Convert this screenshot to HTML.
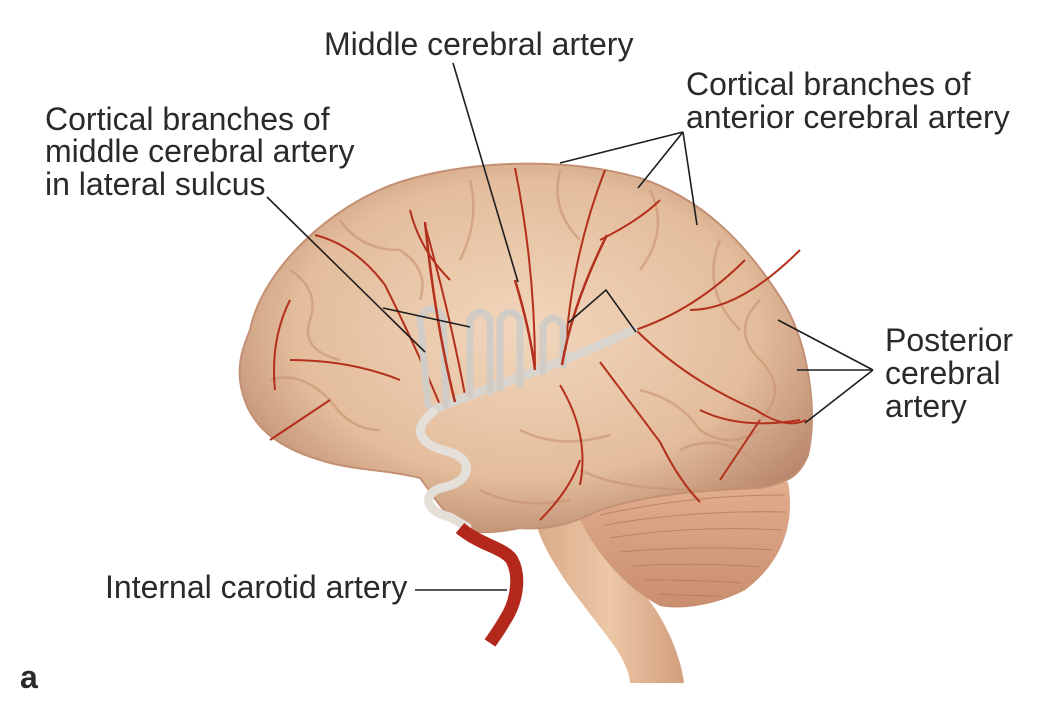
<!DOCTYPE html>
<html><head><meta charset="utf-8"><style>
body{margin:0;background:#fff}
svg{display:block}
text{font-family:"Liberation Sans",sans-serif;font-size:32px;fill:#2a2a2a}
</style></head><body>
<svg width="1040" height="717" viewBox="0 0 1040 717" xmlns="http://www.w3.org/2000/svg">
<defs>
<radialGradient id="b" cx="0.5" cy="0.45" r="0.62">
<stop offset="0" stop-color="#f2d6bc"/><stop offset="0.65" stop-color="#e3bd9c"/><stop offset="1" stop-color="#b7846a"/>
</radialGradient>
<linearGradient id="c" x1="0" y1="0" x2="0" y2="1">
<stop offset="0" stop-color="#e2ae8e"/><stop offset="1" stop-color="#c98e6e"/>
</linearGradient>
<linearGradient id="s" x1="0" y1="0" x2="1" y2="0">
<stop offset="0" stop-color="#d9aa88"/><stop offset="0.5" stop-color="#ecc7a6"/><stop offset="1" stop-color="#d29e7e"/>
</linearGradient>
</defs>
<path d="M535 520 C545 560 580 600 610 640 C625 660 630 675 630 683 L684 683 C680 650 660 610 640 590 C620 560 600 530 590 520 Z" fill="url(#s)"/>
<path d="M580 520 C620 490 700 480 788 482 C795 520 785 560 745 590 C715 606 680 610 660 606 C630 590 600 560 580 520 Z" fill="url(#c)"/>
<g stroke="#b57a5e" stroke-width="1" fill="none" opacity="0.8">
<path d="M600 515 Q690 495 785 495"/><path d="M605 525 Q690 510 786 512"/><path d="M610 538 Q690 525 782 530"/><path d="M620 552 Q700 545 772 550"/><path d="M632 566 Q700 562 760 567"/><path d="M645 580 Q700 580 742 583"/><path d="M660 594 Q700 596 722 596"/>
</g>
<path d="M250 330 C262 270 330 205 400 182 C460 162 560 155 640 178 C700 198 745 240 785 305 C808 345 818 410 808 455 C800 475 790 482 760 488 C700 490 640 495 595 512 C570 525 545 530 520 528 C500 532 475 535 462 528 C440 510 430 490 420 478 C390 470 350 470 320 460 C270 445 245 420 240 380 C238 360 244 345 250 330 Z" fill="url(#b)" stroke="#c49074" stroke-width="2"/>
<g stroke="#c8936f" stroke-width="2.5" fill="none" opacity="0.6">
<path d="M290 270 q30 20 20 50 q-10 30 30 40"/><path d="M340 220 q20 30 60 30 q30 20 20 50"/><path d="M470 180 q10 40 -10 80"/><path d="M560 170 q-10 40 20 70"/><path d="M650 190 q20 40 -10 80"/><path d="M720 240 q-20 50 20 90"/><path d="M760 300 q-30 30 0 60 q30 30 0 60"/><path d="M640 390 q40 10 60 40 q30 20 60 0"/><path d="M520 430 q40 20 90 5"/><path d="M480 490 q40 20 90 10"/><path d="M580 470 q40 20 120 20"/><path d="M270 380 q30 -10 60 20 q20 30 50 30"/><path d="M680 450 q40 -20 80 15"/>
</g>
<g stroke="#b3301c" stroke-width="2" fill="none">
<path d="M440 405 q-25 -60 -55 -120 q-30 -40 -70 -50"/><path d="M400 380 q-50 -20 -110 -20"/><path d="M330 400 q-30 20 -60 40"/><path d="M465 395 q-15 -80 -40 -170"/><path d="M450 280 q-30 -30 -40 -70"/><path d="M535 368 q0 -100 -20 -200"/><path d="M565 360 q5 -100 40 -190"/><path d="M600 240 q40 -20 60 -40"/><path d="M635 330 q60 -20 110 -70"/><path d="M690 310 q50 0 110 -60"/><path d="M636 330 q50 50 120 80 q30 20 50 10"/><path d="M600 362 q30 40 60 80 q20 40 40 60"/><path d="M560 385 q30 50 20 100"/><path d="M540 520 q30 -30 40 -60"/><path d="M290 300 q-20 40 -15 90"/><path d="M700 410 q40 20 100 10"/><path d="M720 480 q20 -30 40 -60"/>
</g>
<g fill="none" stroke-linecap="round">
<path d="M433 410 C480 390 560 365 633 330" stroke="#dad4cf" stroke-width="9"/>
<path d="M433 412 C410 430 420 445 450 452 C475 460 470 482 445 487 C420 492 425 512 450 517 L467 527" stroke="#e5dfda" stroke-width="9"/>
<path d="M428 405 L420 318 q11 -18 23 0 L446 405" stroke="#d2ccc7" stroke-width="7"/>
<path d="M470 395 L470 320 q10 -16 20 0 L490 392" stroke="#d2ccc7" stroke-width="7"/>
<path d="M500 388 L500 320 q10 -16 20 0 L520 385" stroke="#d2ccc7" stroke-width="7"/>
<path d="M543 372 L543 326 q10 -16 20 0 L563 365" stroke="#d2ccc7" stroke-width="7"/>
</g>
<g stroke="#b3301c" stroke-width="2.5" fill="none">
<path d="M455 402 q-20 -80 -30 -180"/><path d="M535 370 q-5 -40 -20 -90"/><path d="M562 365 q10 -60 45 -130"/>
</g>
<path d="M460 528 C480 545 505 548 512 560 C520 575 518 600 505 620 C498 632 492 640 490 643" stroke="#b3281a" stroke-width="13" fill="none"/>
<g stroke="#1e1e1e" stroke-width="1.6" fill="none">
<path d="M453 63 L518 282"/>
<path d="M683 132 L560 163 M683 132 L638 188 M683 132 L697 225"/>
<path d="M267 197 L425 352 M383 308 L470 327"/>
<path d="M568 323 L606 290 L636 332"/>
<path d="M873 370 L778 320 M873 370 L797 370 M873 370 L805 423"/>
<path d="M415 590 L507 590"/>
</g>
<text x="324" y="55">Middle cerebral artery</text>
<text x="686" y="95">Cortical branches of</text>
<text x="686" y="128">anterior cerebral artery</text>
<text x="45" y="130">Cortical branches of</text>
<text x="45" y="162">middle cerebral artery</text>
<text x="45" y="195">in lateral sulcus</text>
<text x="885" y="351">Posterior</text>
<text x="885" y="384">cerebral</text>
<text x="885" y="417">artery</text>
<text x="105" y="598">Internal carotid artery</text>
<text x="20" y="688" style="font-weight:bold">a</text>
</svg>
</body></html>
